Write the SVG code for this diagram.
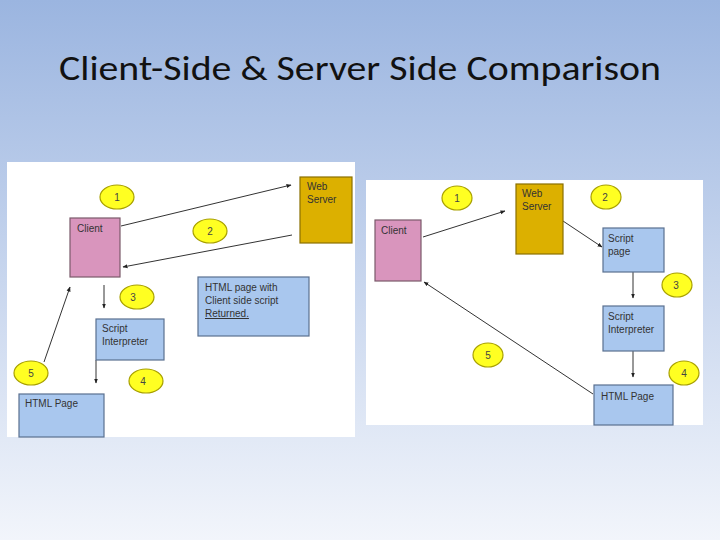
<svg xmlns="http://www.w3.org/2000/svg" width="720" height="540" viewBox="0 0 720 540">
<defs>
<linearGradient id="bg" x1="0" y1="0" x2="0" y2="1"><stop offset="0" stop-color="#9bb5e0"/><stop offset="1" stop-color="#f2f5fb"/></linearGradient>
<marker id="ah" viewBox="0 0 10 10" refX="9" refY="5" markerWidth="5" markerHeight="5" orient="auto"><path d="M0,1 L10,5 L0,9 z" fill="#222"/></marker>
<style>
.t{font-family:"Liberation Sans",Arial,sans-serif;font-size:10px;fill:#333}
.c{fill:#ffff22;stroke:#a8a000;stroke-width:1.2}
.n{font-family:"Liberation Sans",Arial,sans-serif;font-size:10px;fill:#444;text-anchor:middle}
.b{fill:#a9c7ee;stroke:#5a7090;stroke-width:1.2}
.k{fill:#d995bd;stroke:#7a5a6a;stroke-width:1.2}
.s{fill:#dcb000;stroke:#8a7000;stroke-width:1.2}
.l{stroke:#333;stroke-width:1;fill:none;marker-end:url(#ah)}
</style>
</defs>
<rect width="720" height="540" fill="url(#bg)"/>
<text x="360" y="80" text-anchor="middle" font-family="Calibri,'Liberation Sans',Carlito,sans-serif" font-size="34" textLength="602" lengthAdjust="spacingAndGlyphs" fill="#111">Client-Side &amp; Server Side Comparison</text>
<rect x="7" y="162" width="348" height="275" fill="#fff"/>
<rect x="366" y="180" width="337" height="245" fill="#fff"/>
<g id="connectors">
<path class="l" d="M121,226 L291,185"/>
<path class="l" d="M292,235 L123,267"/>
<path class="l" d="M104,285 L104,308"/>
<path class="l" d="M44,362 L70,287"/>
<path class="l" d="M96,360 L96,383"/>
<path class="l" d="M423,237 L505,211"/>
<path class="l" d="M563,221 L602,247"/>
<path class="l" d="M633,272 L633,298"/>
<path class="l" d="M633,351 L633,377"/>
<path class="l" d="M593,394 L424,282"/>
</g>
<g id="L-client"><rect class="k" x="70" y="218" width="50" height="59"/><text class="t" x="77" y="232">Client</text></g>
<g id="L-web"><rect class="s" x="300" y="177" width="52" height="66"/><text class="t" x="307" y="190">Web</text><text class="t" x="307" y="203">Server</text></g>
<g id="L-html-with"><rect class="b" x="198" y="277" width="111" height="59"/><text class="t" x="205" y="291">HTML page with</text><text class="t" x="205" y="304">Client side script</text><text class="t" x="205" y="317" text-decoration="underline">Returned.</text></g>
<g id="L-interp"><rect class="b" x="96" y="319" width="68" height="41"/><text class="t" x="102" y="332">Script</text><text class="t" x="102" y="345">Interpreter</text></g>
<g id="L-html"><rect class="b" x="19" y="394" width="85" height="43"/><text class="t" x="25" y="407">HTML Page</text></g>
<g id="L-n1"><ellipse class="c" cx="117" cy="197" rx="17" ry="12"/><text class="n" x="117" y="201">1</text></g>
<g id="L-n2"><ellipse class="c" cx="210" cy="231" rx="17" ry="12"/><text class="n" x="210" y="235">2</text></g>
<g id="L-n3"><ellipse class="c" cx="137" cy="297" rx="17" ry="12"/><text class="n" x="133" y="301">3</text></g>
<g id="L-n4"><ellipse class="c" cx="146" cy="381" rx="17" ry="12"/><text class="n" x="143" y="385">4</text></g>
<g id="L-n5"><ellipse class="c" cx="31" cy="373" rx="17" ry="12"/><text class="n" x="31" y="377">5</text></g>
<g id="R-client"><rect class="k" x="375" y="220" width="46" height="61"/><text class="t" x="381" y="234">Client</text></g>
<g id="R-web"><rect class="s" x="516" y="184" width="47" height="70"/><text class="t" x="522" y="197">Web</text><text class="t" x="522" y="210">Server</text></g>
<g id="R-script"><rect class="b" x="603" y="228" width="61" height="44"/><text class="t" x="608" y="242">Script</text><text class="t" x="608" y="255">page</text></g>
<g id="R-interp"><rect class="b" x="603" y="306" width="61" height="45"/><text class="t" x="608" y="320">Script</text><text class="t" x="608" y="333">Interpreter</text></g>
<g id="R-html"><rect class="b" x="594" y="385" width="79" height="40"/><text class="t" x="601" y="400">HTML Page</text></g>
<g id="R-n1"><ellipse class="c" cx="457" cy="198" rx="15" ry="12"/><text class="n" x="457" y="202">1</text></g>
<g id="R-n2"><ellipse class="c" cx="606" cy="197" rx="15" ry="12"/><text class="n" x="605" y="201">2</text></g>
<g id="R-n3"><ellipse class="c" cx="677" cy="285" rx="15" ry="12"/><text class="n" x="676" y="289">3</text></g>
<g id="R-n4"><ellipse class="c" cx="684" cy="373" rx="15" ry="12"/><text class="n" x="684" y="377">4</text></g>
<g id="R-n5"><ellipse class="c" cx="488" cy="355" rx="15" ry="12"/><text class="n" x="488" y="359">5</text></g>
</svg>
